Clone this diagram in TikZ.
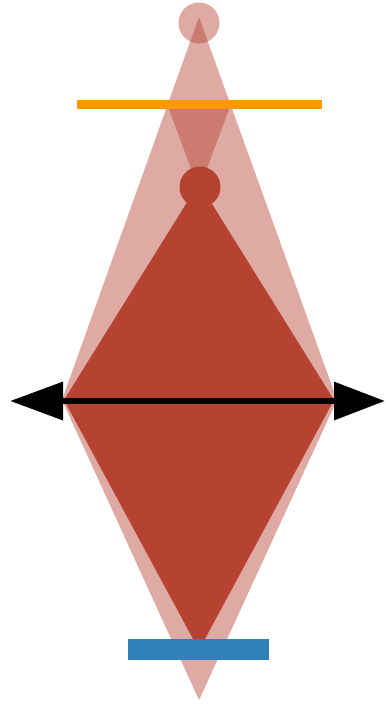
\documentclass[tikz,border=0pt]{standalone}
\usetikzlibrary{arrows.meta}
\definecolor{clay}{RGB}{182,66,50}
\definecolor{orng}{RGB}{252,152,0}
\definecolor{blu}{RGB}{47,128,185}
\tikzset{
  lightfill/.style={fill=clay, fill opacity=0.45, draw=none},
  darkfill/.style={fill=clay, draw=none},
}
\begin{document}
\begin{tikzpicture}[x=1pt,y=-1pt]
\useasboundingbox (0,0) rectangle (386,705);
% light up-pointing triangle
\fill[lightfill] (199,17) -- (337,400) -- (62,400) -- cycle;
% light down-pointing triangle
\fill[lightfill] (62,400) -- (337,400) -- (199,700) -- cycle;
% V region between mirror and ball
\fill[lightfill] (167,104) -- (231,104) -- (199,190) -- cycle;
% top (image) circle
\fill[lightfill] (199,23) circle[radius=20.5];
% dark rhombus
\fill[darkfill] (199,183) -- (334,400) -- (199,650) -- (64,400) -- cycle;
% dark ball
\fill[darkfill] (200,187) circle[radius=20.5];
% orange mirror
\fill[orng] (77,100) rectangle (322,109);
% blue bar
\fill[blu] (128,639) rectangle (269,660);
% double arrow
\coordinate (al) at (10,401);
\coordinate (ar) at (385,401);
\draw[line width=6.5pt, {Triangle[length=53pt,width=37pt]}-{Triangle[length=51pt,width=37pt]}] (al) -- (ar);
\end{tikzpicture}
\end{document}
